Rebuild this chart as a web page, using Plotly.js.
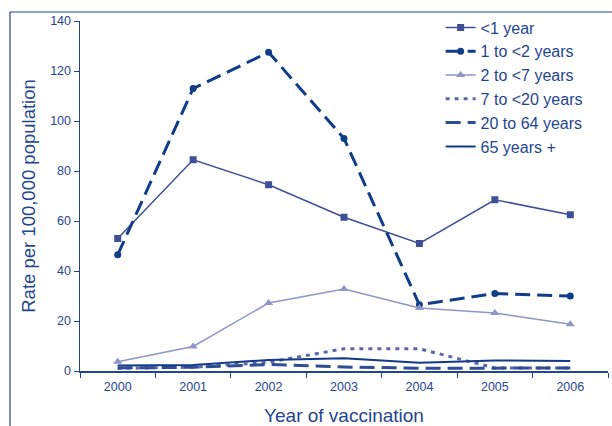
<!DOCTYPE html>
<html>
<head>
<meta charset="utf-8">
<script src="https://cdn.plot.ly/plotly-3.0.1.min.js"></script>
<style>
html,body{margin:0;padding:0;background:#fff;}
#chart{width:612px;height:426px;}
</style>
</head>
<body>
<div id="chart"></div>
<script>
var years = ["2000","2001","2002","2003","2004","2005","2006"];
var under1 = [53, 84.5, 74.5, 61.5, 51, 68.5, 62.5];
var oneTo2 = [46.5, 113, 127.5, 93, 26.5, 31, 30];
var twoTo7 = [3.7, 9.8, 27.2, 32.8, 25.2, 23.2, 18.7];
var sevenTo20 = [1.1, 1.5, 3.5, 8.9, 8.9, 1.2, 1.2];
var twentyTo64 = [1.2, 1.5, 2.6, 1.6, 1.1, 1.1, 1.2];
var over65 = [2.2, 2.4, 4.4, 5.1, 3.3, 4.2, 4.0];
var seriesNames = ["<1 year", "1 to <2 years", "2 to <7 years", "7 to <20 years", "20 to 64 years", "65 years +"];

var txt = "#1f4690";
var traces = [
  {x: years, y: under1, name: seriesNames[0], mode: "lines+markers",
   line: {color: "#3d4f96", width: 1.5}, marker: {symbol: "square", size: 7, color: "#3d4f96"}},
  {x: years, y: oneTo2, name: seriesNames[1], mode: "lines+markers",
   line: {color: "#0f3d87", width: 3, dash: "15px,7px"}, marker: {symbol: "circle", size: 7, color: "#0f3d87"}},
  {x: years, y: twoTo7, name: seriesNames[2], mode: "lines+markers",
   line: {color: "#8f95c7", width: 1.5}, marker: {symbol: "triangle-up", size: 8, color: "#8f95c7"}},
  {x: years, y: sevenTo20, name: seriesNames[3], mode: "lines",
   line: {color: "#5a68ab", width: 3, dash: "4px,5px"}},
  {x: years, y: twentyTo64, name: seriesNames[4], mode: "lines",
   line: {color: "#2f4d92", width: 3, dash: "15px,7px"}},
  {x: years, y: over65, name: seriesNames[5], mode: "lines",
   line: {color: "#13398a", width: 2}}
];

var layout = {
  width: 612, height: 426,
  margin: {l: 80, r: 4, t: 21, b: 55},
  paper_bgcolor: "#fff", plot_bgcolor: "#fff",
  font: {family: "Liberation Sans, Arial, sans-serif", color: txt},
  showlegend: true,
  legend: {x: 0.683, y: 1.03, xanchor: "left", yanchor: "top",
           font: {size: 16, color: txt}, itemwidth: 30, bgcolor: "rgba(0,0,0,0)", tracegroupgap: 0},
  xaxis: {type: "category", range: [-0.5, 6.5], tickson: "boundaries", ticks: "outside", ticklen: 5,
          ticklabelstandoff: 3,
          tickcolor: "#1f4690", showline: true, linecolor: "#1f4690", linewidth: 1.5, showgrid: false, zeroline: false,
          tickfont: {size: 12.5, color: txt},
          title: {text: "Year of vaccination", font: {size: 19, color: txt}, standoff: 21}},
  yaxis: {range: [0, 140], tickvals: [0,20,40,60,80,100,120,140], ticks: "outside", ticklen: 5,
          tickcolor: "#1f4690", showline: true, linecolor: "#1f4690", linewidth: 1.5, showgrid: false, zeroline: false,
          tickfont: {size: 12.5, color: txt},
          title: {text: "Rate per 100,000 population", font: {size: 18.5, color: txt}, standoff: 9}},
  shapes: [
    {type: "line", xref: "paper", yref: "paper", x0: -0.1326, x1: -0.1326, y0: -0.2, y1: 1.0257,
     line: {color: "#1f4690", width: 1.2}},
    {type: "line", xref: "paper", yref: "paper", x0: -0.1326, x1: 1.01, y0: 1.0257, y1: 1.0257,
     line: {color: "#1f4690", width: 1.2}}
  ]
};

Plotly.newPlot("chart", traces, layout, {displayModeBar: false, staticPlot: true});
</script>
</body>
</html>
